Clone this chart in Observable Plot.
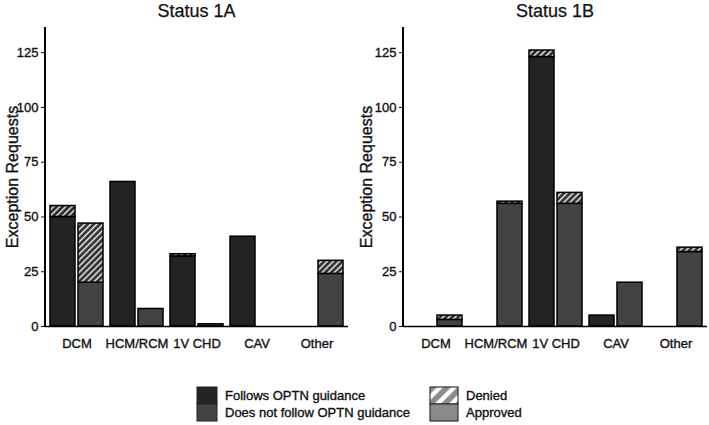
<!DOCTYPE html>
<html>
<head>
<meta charset="utf-8">
<script src="https://cdn.jsdelivr.net/npm/d3@7"></script>
<script src="https://cdn.jsdelivr.net/npm/@observablehq/plot@0.6"></script>
<style>
  html, body { margin: 0; padding: 0; background: #fff; }
  body { width: 709px; height: 425px; position: relative; overflow: hidden;
         font-family: "Liberation Sans", Arial, Helvetica, sans-serif; color: #111; }
  .title { position: absolute; top: 0; font-size: 18px; line-height: 22px; text-align: center; color: #111;
           -webkit-text-stroke: 0.25px #111; }
  .panel { position: absolute; top: 20px; }
  .panel figure { margin: 0; }
  .leg { position: absolute; font-size: 13px; line-height: 17px; color: #111; white-space: nowrap;
         -webkit-text-stroke: 0.35px #111; }
  .panel svg text { stroke: #111; stroke-width: 0.35px; }
  .yline { position: absolute; top: 27px; width: 2px; height: 300px; background: #000; z-index: 5; }
</style>
</head>
<body>
<svg width="0" height="0" style="position:absolute">
  <defs>
    <pattern id="hatchF" patternUnits="userSpaceOnUse" width="4.3" height="4.3" patternTransform="rotate(45)">
      <rect width="4.3" height="4.3" fill="#232323"></rect>
      <line x1="2.15" y1="-1" x2="2.15" y2="5.3" stroke="#f4f4f4" stroke-width="1.5"></line>
    </pattern>
    <pattern id="hatchN" patternUnits="userSpaceOnUse" width="4.3" height="4.3" patternTransform="rotate(45)">
      <rect width="4.3" height="4.3" fill="#2c2c2c"></rect>
      <line x1="2.15" y1="-1" x2="2.15" y2="5.3" stroke="#f4f4f4" stroke-width="1.5"></line>
    </pattern>
    <pattern id="hatchL" patternUnits="userSpaceOnUse" width="10" height="10" patternTransform="rotate(45)">
      <rect width="10" height="10" fill="#8a8a8a"></rect>
      <line x1="5" y1="-1" x2="5" y2="11" stroke="#ffffff" stroke-width="4.5"></line>
    </pattern>
  </defs>
</svg>

<div class="title" style="left:45px;width:303px;">Status 1A</div>
<div class="title" style="left:403px;width:304px;">Status 1B</div>
<div id="p1" class="panel" style="left:0px;"></div>
<div id="p2" class="panel" style="left:354px;"></div>

<svg style="position:absolute;left:0;top:0;" width="709" height="425">
  <rect x="197" y="387" width="20" height="17" fill="#232323" stroke="#222" stroke-width="1"></rect>
  <rect x="197" y="404" width="20" height="17" fill="#434343" stroke="#222" stroke-width="1"></rect>
  <rect x="430" y="387" width="28" height="17" fill="url(#hatchL)" stroke="#333" stroke-width="1.2"></rect>
  <rect x="430" y="404" width="28" height="17" fill="#8a8a8a" stroke="#333" stroke-width="1.2"></rect>
</svg>
<div class="leg" style="left:225px;top:387px;">Follows OPTN guidance</div>
<div class="leg" style="left:225px;top:404px;">Does not follow OPTN guidance</div>
<div class="leg" style="left:466px;top:387px;">Denied</div>
<div class="leg" style="left:466px;top:404px;">Approved</div>
<div class="yline" style="left:44px;"></div>
<div class="yline" style="left:402px;"></div>

<script>
// ---- Data ----
const categories = ["DCM", "HCM/RCM", "1V CHD", "CAV", "Other"];
const yTicks = [0, 25, 50, 75, 100, 125];

// Status 1A
const a_followApproved    = [50, 66, 32, 41, 0];
const a_followDenied      = [5, 0, 1, 0, 0];
const a_notFollowApproved = [20, 8, 1, 0, 24];
const a_notFollowDenied   = [27, 0, 0, 0, 6];

// Status 1B
const b_followApproved    = [0, 0, 123, 5, 0];
const b_followDenied      = [0, 0, 3, 0, 0];
const b_notFollowApproved = [3, 56, 56, 20, 34];
const b_notFollowDenied   = [2, 1, 5, 0, 2];

const FOLLOW = "#232323";
const NOTFOLLOW = "#434343";

function rows(approved, denied) {
  return categories.flatMap((c, i) => [
    {cat: c, status: "Approved", value: approved[i]},
    {cat: c, status: "Denied", value: denied[i]}
  ]);
}

function panel(fa, fd, na, nd, opts) {
  const follow = rows(fa, fd);
  const notFollow = rows(na, nd);
  return Plot.plot({
    width: opts.width,
    height: 340,
    marginLeft: opts.marginLeft,
    marginRight: opts.marginRight,
    marginTop: 7,
    marginBottom: 34,
    style: {fontFamily: '"Liberation Sans", Arial, Helvetica, sans-serif', fontSize: "13px", color: "#111", background: "transparent"},
    x: {domain: categories, paddingInner: 0.125, paddingOuter: 0.065, tickSize: 0, tickPadding: 12, label: null},
    y: {domain: [0, 136.5], ticks: yTicks, tickSize: 4, tickPadding: 3, label: null},
    color: {type: "identity", legend: false},
    marks: [
      Plot.barY(follow, {
        x: "cat", y: "value",
        fill: d => d.status === "Denied" ? "url(#hatchF)" : FOLLOW,
        stroke: "#000", strokeWidth: 1.5, insetRight: 28, insetLeft: 0
      }),
      Plot.barY(notFollow, {
        x: "cat", y: "value",
        fill: d => d.status === "Denied" ? "url(#hatchN)" : NOTFOLLOW,
        stroke: "#000", strokeWidth: 1.5, insetLeft: 28, insetRight: 0
      }),
      Plot.ruleY([0], {stroke: "#000", strokeWidth: 1.6}),
      Plot.text(["Exception Requests"], {
        text: d => d, frameAnchor: "left", textAnchor: "middle", lineAnchor: "middle",
        dx: opts.labelDx, rotate: -90, fontSize: 16, fill: "#111"
      })
    ]
  });
}

const o1 = {width: 354, marginLeft: 45, marginRight: 6, labelDx: -33};
const o2 = {width: 355, marginLeft: 49, marginRight: 2, labelDx: -37};
document.getElementById("p1").appendChild(panel(a_followApproved, a_followDenied, a_notFollowApproved, a_notFollowDenied, o1));
document.getElementById("p2").appendChild(panel(b_followApproved, b_followDenied, b_notFollowApproved, b_notFollowDenied, o2));
</script>
</body>
</html>
